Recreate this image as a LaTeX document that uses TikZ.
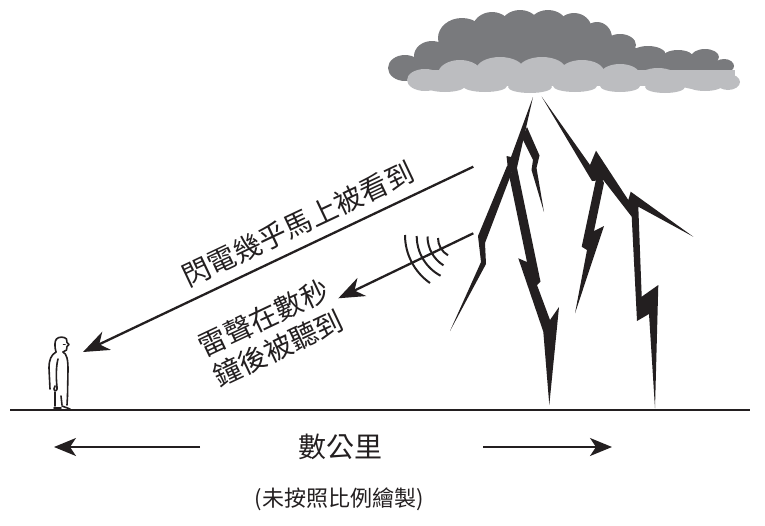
\documentclass[tikz,border=0pt]{standalone}
\usepackage{fontspec}
\newfontfamily\cjk{Noto Sans CJK TC}
\usetikzlibrary{arrows.meta}
\definecolor{boltink}{HTML}{231F20}
\definecolor{clouddark}{HTML}{797A7D}
\definecolor{cloudlight}{HTML}{BCBDC0}
\begin{document}
\begin{tikzpicture}[x=1pt,y=-1pt,
  bolt/.style={fill=boltink},
  ray/.style={draw=boltink, line width=2.3pt,
    -{Stealth[length=26pt,width=20pt,inset=8pt]}},
  span/.style={draw=boltink, line width=2pt,
    -{Stealth[length=22pt,width=18pt,inset=6pt]}},
  wave/.style={draw=boltink, line width=2pt},
  figure/.style={draw=boltink, line width=1.6pt, line cap=round, line join=round},
  label/.style={font=\cjk\fontsize{28}{34}\selectfont, text=boltink, align=center, inner sep=0pt},
  small label/.style={font=\cjk\fontsize{22}{26}\selectfont, text=boltink, inner sep=0pt}]
\useasboundingbox (0,0) rectangle (765,525);

% ---- storm cloud: dark upper mass ----
\begin{scope}[fill=clouddark]
  \fill (400,75) -- (415,60) -- (440,45) -- (462,30) -- (492,22) -- (520,18) -- (548,18)
    -- (574,22) -- (597,30) -- (618,40) -- (645,52) -- (678,56) -- (705,56) -- (722,62)
    -- (725,78) -- cycle;
  \fill (405,68) ellipse[x radius=17, y radius=13];
  \fill (432,56) ellipse[x radius=18, y radius=15];
  \fill (462,38) ellipse[x radius=24, y radius=20];
  \fill (492,30) ellipse[x radius=20, y radius=18];
  \fill (520,27) ellipse[x radius=20, y radius=17];
  \fill (548,27) ellipse[x radius=20, y radius=17];
  \fill (574,30) ellipse[x radius=18, y radius=17];
  \fill (597,38) ellipse[x radius=15, y radius=16];
  \fill (620,45) ellipse[x radius=16, y radius=11];
  \fill (648,55) ellipse[x radius=18, y radius=9];
  \fill (678,58) ellipse[x radius=16, y radius=8];
  \fill (705,57) ellipse[x radius=14, y radius=8];
  \fill (724,66) ellipse[x radius=10, y radius=7];
\end{scope}
% ---- storm cloud: light lower mass ----
\begin{scope}[fill=cloudlight]
  \fill (425,70) rectangle (735,86);
  \fill (425,80) ellipse[x radius=18, y radius=11];
  \fill (460,74) ellipse[x radius=22, y radius=14];
  \fill (500,70) ellipse[x radius=24, y radius=13];
  \fill (542,70) ellipse[x radius=24, y radius=13];
  \fill (582,72) ellipse[x radius=22, y radius=12];
  \fill (620,75) ellipse[x radius=20, y radius=11];
  \fill (658,78) ellipse[x radius=20, y radius=10];
  \fill (695,80) ellipse[x radius=18, y radius=9];
  \fill (728,82) ellipse[x radius=12, y radius=8];
  \fill (445,86) ellipse[x radius=20, y radius=6];
  \fill (485,86) ellipse[x radius=22, y radius=6];
  \fill (530,87) ellipse[x radius=22, y radius=6];
  \fill (575,86) ellipse[x radius=22, y radius=6];
  \fill (620,86) ellipse[x radius=20, y radius=6];
  \fill (665,87) ellipse[x radius=20, y radius=6];
  \fill (705,85) ellipse[x radius=18, y radius=6];
\end{scope}

% ---- left bolt ----
\fill[bolt] (533,97) -- (516,172) -- (506,172) -- (507.5,165) -- (506.5,156) -- (511,157) -- cycle;
\fill[bolt] (527,127) -- (539.5,155.5) -- (536.5,168) -- (544,212) -- (531.5,170) -- (533,160) -- (522,138) -- cycle;
\fill[bolt] (507,166) -- (512,172) -- (485,243) -- (486,264) -- (450,331) -- (481,262) -- (478,236) -- cycle;
\fill[bolt] (517,168) -- (540.5,281.7) -- (537,285) -- (550,320) -- (559,307) -- (549.3,405)
  -- (543.3,331.7) -- (518.3,258.3) -- (527,262) -- (509,175) -- cycle;

% ---- right bolt ----
\fill[bolt] (541.7,96.7) -- (590,165) -- (596,150.7) -- (628.3,200) -- (630.7,191.7) -- (693.3,236.7)
  -- (638.3,206.7) -- (641.7,296.7) -- (658.3,285) -- (655,408.3) -- (649,314) -- (637,321)
  -- (631.7,216.7) -- (603.3,180) -- (592,181) -- cycle;
\fill[bolt] (598,170) -- (604,183) -- (594,231) -- (604,226) -- (575,313.3) -- (587,250)
  -- (581.7,246.7) -- cycle;

% ---- ground ----
\coordinate (groundL) at (10,410);
\coordinate (groundR) at (750,410);
\draw[boltink, line width=2.6pt] (groundL) -- (groundR);

% ---- observer ----
\begin{scope}[figure]
  \draw (56,352) .. controls (54.5,347) and (54.5,341) .. (56.5,339)
        .. controls (58.5,336.5) and (64.5,336.5) .. (66.5,339)
        -- (67,342.5) -- (69,344.5) -- (67,346.5) -- (66.5,350) -- (63,352);
  \draw (63.5,344.5) -- (65,344.5);
  \draw (56,352) .. controls (51,355) and (49,360) .. (49,368) -- (50,389);
  \draw (63,352) .. controls (67,354) and (68,360) .. (68,370) -- (67.5,396);
  \draw (58,359) .. controls (56,366) and (56,378) .. (57,387) .. controls (58,391) and (54,392) .. (54,389) -- (55,386);
  \draw (55,392) -- (55,406);
  \draw (61,396) -- (62,405);
  \draw (67.5,396) -- (67,405);
  \draw (54,408) -- (61,408);
  \draw (62,406) -- (70,409);
\end{scope}

% ---- flash ray ----
\coordinate (flashStart) at (473.3,166.7);
\coordinate (eye) at (83,352);
\draw[ray] (flashStart) -- (eye);
\node[label, rotate=25.3] (flashText) at (298,224) {閃電幾乎馬上被看到};

% ---- sound ray ----
\coordinate (soundStart) at (473.3,233.3);
\coordinate (soundEnd) at (338.3,298.3);
\draw[ray] (soundStart) -- (soundEnd);
\node[label, rotate=25.3] (soundText) at (271,333) {雷聲在數秒\\鐘後被聽到};

% sound wave fronts
\coordinate (w1) at (405,235);
\coordinate (w2) at (416.7,236);
\coordinate (w3) at (427.5,236.5);
\coordinate (w4) at (438,238);
\draw[wave] (w1) arc[start angle=180, end angle=125, radius=58.6];
\draw[wave] (w2) arc[start angle=180, end angle=118, radius=45];
\draw[wave] (w3) arc[start angle=180, end angle=122, radius=34];
\draw[wave] (w4) arc[start angle=180, end angle=120, radius=20];

% ---- distance marker ----
\node[label] (dist) at (340,447) {數公里};
\coordinate (leftEnd) at (54,447);
\coordinate (rightEnd) at (612,447);
\coordinate (leftTail) at (200,447);
\coordinate (rightTail) at (483,447);
\draw[span] (leftTail) -- (leftEnd);
\draw[span] (rightTail) -- (rightEnd);

\node[small label] (note) at (339,499) {(未按照比例繪製)};
\end{tikzpicture}
\end{document}
